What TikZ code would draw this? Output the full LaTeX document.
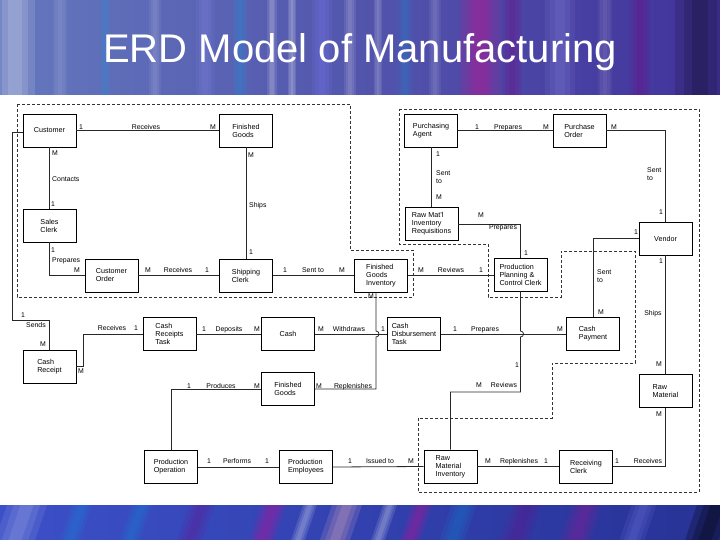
\documentclass[tikz,border=0pt]{standalone}
\usepackage{fontspec}
\setmainfont{Liberation Sans}
\usetikzlibrary{calc}
\definecolor{tA}{RGB}{100,120,190}
\definecolor{tM}{RGB}{45,75,200}
\definecolor{tB}{RGB}{65,50,155}
\definecolor{bA}{RGB}{60,80,200}
\definecolor{bM}{RGB}{110,80,190}
\definecolor{bB}{RGB}{40,50,150}
\definecolor{lineC}{RGB}{40,40,40}
\begin{document}
\begin{tikzpicture}[x=1pt,y=-1pt,
  ent/.style={draw=black,line width=0.9pt,fill=white,minimum width=53pt,minimum height=33pt,
    inner sep=1pt,font=\fontsize{7.2}{8}\selectfont,align=left},
  lbl/.style={font=\fontsize{6.9}{7.5}\selectfont,inner sep=0pt,text height=5pt,text depth=0pt},
  lblw/.style={font=\fontsize{6.9}{8}\selectfont,inner sep=0pt,anchor=west,align=left},
  rel/.style={draw=lineC,line width=0.8pt},
  grp/.style={draw=black!80,line width=0.7pt,dash pattern=on 3pt off 2pt}]
\useasboundingbox (0,0) rectangle (720,540);
% background bands
\fill[white] (0,95) rectangle (720,505);
\begin{scope}
\clip (0,0) rectangle (720,95);
\shade[left color=tA,middle color=tM,right color=tB] (0,0) rectangle (720,95);
\foreach \x/\w/\c/\o in {15/40/white/0.35, 60/14/white/0.15, 105/10/cyan/0.2, 155/12/white/0.18,
  205/18/blue!40!white/0.25, 240/14/cyan/0.25, 272/10/white/0.3, 292/8/white/0.35, 322/20/blue!50!white/0.35,
  350/12/white/0.25, 378/8/white/0.25, 405/16/cyan/0.2, 435/12/white/0.18, 480/40/magenta/0.4,
  512/20/violet/0.35, 560/30/blue!30!white/0.25, 605/14/white/0.15, 640/20/violet/0.35, 700/50/black/0.4}
  \foreach \k in {1,0.66,0.33}{
    \pgfmathsetmacro{\op}{\o/3}
    \fill[\c,opacity=\op] ({\x-\w*\k/2},0) rectangle ({\x+\w*\k/2},95);
  }
\end{scope}
\begin{scope}
\clip (0,505) rectangle (720,540);
\shade[left color=bA,middle color=bM,right color=bB] (0,505) rectangle (720,540);
\foreach \x/\w/\c/\o in {15/40/white/0.25, 70/20/cyan/0.25, 130/20/cyan/0.25, 190/25/violet/0.3,
  262/25/magenta/0.35, 298/14/white/0.35, 335/30/pink/0.45, 378/14/white/0.35, 410/20/magenta/0.35,
  452/25/cyan/0.25, 515/30/violet/0.3, 575/30/magenta/0.25, 632/25/blue!40!white/0.3, 705/40/black/0.7}
  \foreach \k in {1,0.66,0.33}{
    \pgfmathsetmacro{\op}{\o/3}
    \fill[\c,opacity=\op] ({\x-\w*\k/2},540) -- ({\x+\w*\k/2},540) -- ({\x+\w*\k/2+12},505) -- ({\x-\w*\k/2+12},505) -- cycle;
  }
\end{scope}
\node[font=\fontsize{40}{40}\selectfont,text=white,anchor=base] (title) at (360,63) {ERD Model of Manufacturing};
% dashed groups
\draw[grp] (17,104) -- (350,104) -- (350,250) -- (413,250) -- (413,297) -- (17,297) -- cycle;
\draw[grp] (399,109) -- (699,109) -- (699,492) -- (418,492) -- (418,418) -- (552,418) -- (552,363)
  -- (635,363) -- (635,251) -- (561,251) -- (561,297) -- (488,297) -- (488,244) -- (399,244) -- cycle;
% entities
\node[ent] (cust) at (49.5,130.5) {Customer};
\node[ent] (fga) at (246,130.5) {Finished\\Goods};
\node[ent] (sc) at (49.5,225.5) {Sales\\Clerk};
\node[ent] (co) at (111.5,275.5) {Customer\\Order};
\node[ent] (shc) at (246,275.5) {Shipping\\Clerk};
\node[ent] (fgi) at (381,275.5) {Finished\\Goods\\Inventory};
\node[ent] (pa) at (431,130.5) {Purchasing\\Agent};
\node[ent] (po) at (579.5,130.5) {Purchase\\Order};
\node[ent] (rmir) at (431.5,224) {Raw Mat'l\\Inventory\\Requisitions};
\node[ent] (ppcc) at (520.5,274.5) {Production\\Planning \&\\Control Clerk};
\node[ent] (ven) at (665.5,238.5) {Vendor};
\node[ent] (cr) at (49.5,366.5) {Cash\\Receipt};
\node[ent] (crt) at (169.5,334) {Cash\\Receipts\\Task};
\node[ent] (cash) at (288,334) {Cash};
\node[ent] (cdt) at (414,334) {Cash\\Disbursement\\Task};
\node[ent] (cp) at (593,334) {Cash\\Payment};
\node[ent] (fgb) at (288,389) {Finished\\Goods};
\node[ent] (rm) at (665.5,391) {Raw\\Material};
\node[ent] (pop) at (171,467) {Production\\Operation};
\node[ent] (pe) at (306,467) {Production\\Employees};
\node[ent] (rmi) at (450.5,466.5) {Raw\\Material\\Inventory};
\node[ent] (rc) at (586,466.5) {Receiving\\Clerk};
% bend coordinates
\coordinate (lc1) at (12,132);
\coordinate (lc2) at (12,320);
\coordinate (fx) at ([xshift=-5pt]fgi.south);
\coordinate (rv) at (520.5,392);
% relationships
\draw[rel] (cust.east) -- (fga.west);
\draw[rel] (cust.south) -- (sc.north);
\draw[rel] (fga.south) -- (shc.north);
\draw[rel] (sc.south) |- (co.west);
\draw[rel] (co.east) -- (shc.west);
\draw[rel] (shc.east) -- (fgi.west);
\draw[rel] (fgi.east) -- (fgi.east -| ppcc.west);
\draw[rel] (pa.east) -- (po.west);
\draw[rel] (pa.south) -- (pa.south |- rmir.north);
\draw[rel] (rmir.east) -| (ppcc.north);
\draw[rel] (po.east) -| (ven.north);
\draw[rel] (ven.west) -| (cp.north);
\draw[rel] (ven.south) -- (rm.north);
\draw[rel] (rm.south) |- (rc.east);
\draw[rel] (rc.west) -- (rmi.east);
\draw[rel] (pe.east) -- (rmi.west);
\draw[rel] (pop.east) -- (pe.west);
\draw[rel] (fgb.west) -| (pop.north);
\draw[rel] (crt.east) -- (cash.west);
\draw[rel] (cash.east) -- (cdt.west);
\draw[rel] (cdt.east) -- (cp.west);
\draw[rel] (cr.east) -- ++(7,0) |- (crt.west);
\draw[rel] (cust.west |- lc1) -- (lc1) -- (lc2) -| (cr.north);
\draw[rel] (fgb.east) -- (fgb.east -| fx) -- ($(fx |- cash.east)+(0,3)$)
  .. controls +(4,0) and +(4,0) .. ($(fx |- cash.east)+(0,-3)$) -- (fx);
\draw[rel] (ppcc.south) -- ($(ppcc.south |- cdt.east)+(0,-3)$)
  .. controls +(4,0) and +(4,0) .. ($(ppcc.south |- cdt.east)+(0,3)$) -- (ppcc.south |- rv) -| (rmi.north);
% labels
\foreach \x/\y/\t [count=\i] in {81/127/1, 146/127/Receives, 213/127/M,
  55/153/M, 53/204/1, 251/155/M, 251/252/1, 53/250/1, 77/270/M,
  148/270/M, 178/270/Receives, 207/270/1, 285/270/1, 313/270/Sent to, 342/270/M,
  421/270/M, 451/270/Reviews, 481/270/1, 371/296/M,
  477/127/1, 508/127/Prepares, 546/127/M, 614/127/M,
  438/154/1, 439/197/M, 481/215/M, 503/227/Prepares, 526/253/1,
  661/212/1, 636/232/1, 661/261/1, 601/312/M, 653/313/Ships, 560/329/M,
  659/364/M, 659/414/M,
  23/315/1, 36/325/Sends, 43/344/M, 81/371/M, 112/328/Receives, 136/328/1,
  204/329/1, 229/329/Deposits, 257/329/M, 321/329/M, 349/329/Withdraws,
  383/329/1, 455/329/1, 485/329/Prepares, 517/365/1, 479/385/M, 504/385/Reviews,
  189/386/1, 221/386/Produces, 257/386/M, 319/386/M, 353/386/Replenishes,
  209/461/1, 237/461/Performs, 267/461/1, 350/461/1, 380/461/Issued to, 411/461/M,
  488/461/M, 519/461/Replenishes, 546/461/1, 617/461/1, 648/461/Receives}
  \node[lbl] (lab\i) at (\x,\y) {\t};
\node[lblw] (labC) at (52,179) {Contacts};
\node[lblw] (labS) at (249,206) {Ships};
\node[lblw] (labP) at (52,261) {Prepares};
\node[lblw] (labST1) at (436,177) {Sent\\to};
\node[lblw] (labST2) at (647,174) {Sent\\to};
\node[lblw] (labST3) at (597,276) {Sent\\to};
\end{tikzpicture}
\end{document}
